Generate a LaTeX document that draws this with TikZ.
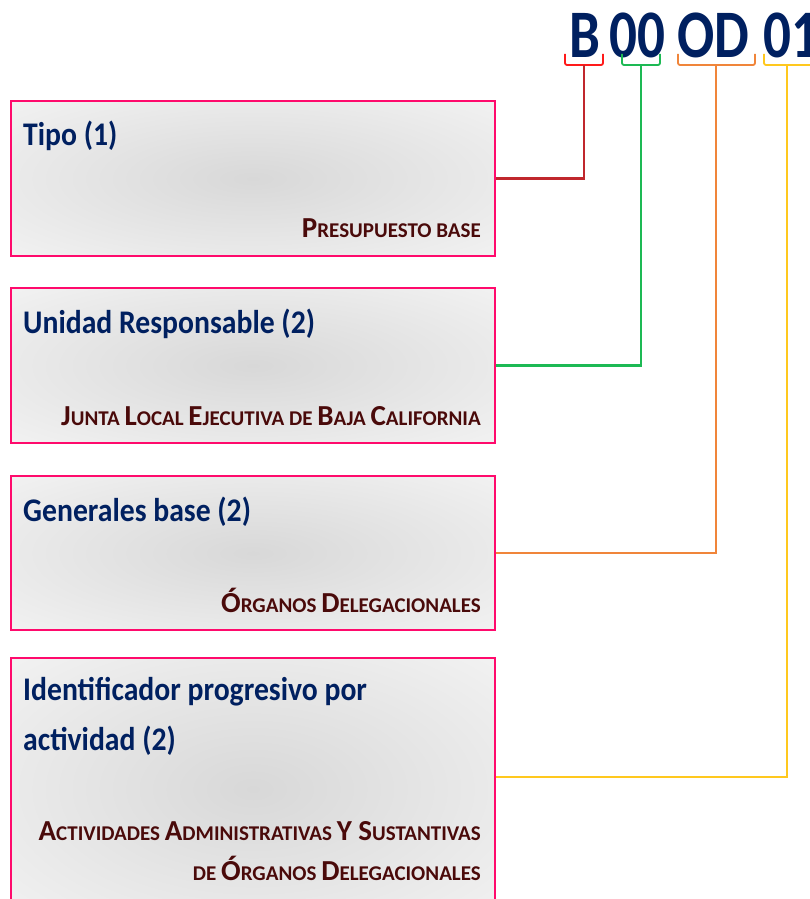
\documentclass[tikz,border=0pt]{standalone}
\usepackage{fontspec}
\setmainfont{Carlito}
\newfontfamily\cbold[FakeStretch=0.9]{Carlito Bold}
\newfontfamily\cboldn[FakeStretch=0.81]{Carlito Bold}
\newfontfamily\cbolds{Carlito Bold}
\definecolor{navy}{HTML}{002060}
\definecolor{maroon}{HTML}{4A0A0A}
\definecolor{boxpink}{HTML}{FF0A6C}
\definecolor{cred}{HTML}{C0272D}
\definecolor{bred}{HTML}{FF1A1A}
\definecolor{cgreen}{HTML}{1DB954}
\definecolor{corange}{HTML}{F0853A}
\definecolor{cyellow}{HTML}{FFC81E}
\definecolor{gin}{HTML}{D8D8D8}
\definecolor{gout}{HTML}{F2F2F2}
\pgfdeclareradialshading{boxshade}{\pgfpoint{0bp}{0bp}}{color(0bp)=(gin); color(36bp)=(gout); color(50bp)=(gout)}
\newcommand\bigc[1]{{\fontsize{29}{29}\selectfont #1}}
\newcommand\smc[1]{{\fontsize{21}{21}\selectfont #1}}
\tikzset{
  codebox/.style={draw=boxpink, line width=2.2pt, shading=boxshade, minimum width=484pt, anchor=north west, inner sep=0pt},
  ttl/.style={text=navy, font=\cbold\fontsize{33}{50}\selectfont, anchor=base west, inner sep=0pt, align=left},
  sub/.style={text=maroon, font=\cbolds\fontsize{21}{40}\selectfont, anchor=base east, inner sep=0pt, align=right},
  code/.style={text=navy, font=\cboldn\fontsize{68}{68}\selectfont, anchor=base, inner sep=0pt},
  conn/.style={line width=2.7pt},
  brk/.style={line width=1.8pt, rounded corners=2pt},
}
\begin{document}
\begin{tikzpicture}[x=1pt,y=-1pt]
\useasboundingbox (0,0) rectangle (809,899);
% boxes
\node[codebox, minimum height=155pt] (b1) at (10,100) {};
\node[codebox, minimum height=155pt] (b2) at (10,287) {};
\node[codebox, minimum height=154pt] (b3) at (10,475) {};
\node[codebox, minimum height=262pt] (b4) at (10,657) {};
% titles
\node[ttl] (t1) at (23,145) {Tipo (1)};
\node[ttl] (t2) at (23,333) {Unidad Responsable (2)};
\node[ttl] (t3) at (23,521) {Generales base (2)};
\node[ttl] (t4) at (23,750) {Identificador progresivo por\\actividad (2)};
% subtitles
\node[sub] (s1) at (481,237) {\bigc{P}\smc{RESUPUESTO BASE}};
\node[sub] (s2) at (481,425) {\bigc{J}\smc{UNTA} \bigc{L}\smc{OCAL} \bigc{E}\smc{JECUTIVA DE} \bigc{B}\smc{AJA} \bigc{C}\smc{ALIFORNIA}};
\node[sub] (s3) at (481,612) {\bigc{Ó}\smc{RGANOS} \bigc{D}\smc{ELEGACIONALES}};
\node[sub] (s4) at (481,880) {\bigc{A}\smc{CTIVIDADES} \bigc{A}\smc{DMINISTRATIVAS} \bigc{Y S}\smc{USTANTIVAS}\\\smc{DE} \bigc{Ó}\smc{RGANOS} \bigc{D}\smc{ELEGACIONALES}};
% code
\node[code] (cB) at (585,57) {B};
\node[code] (c00) at (637,57) {00};
\node[code] (cOD) at (713,57) {OD};
\node[code, anchor=base west] (c01) at (763,57) {01};
% brackets
\draw[brk, bred] (565,54) -- (565,65) -- (603,65) -- (603,54);
\draw[brk, cgreen] (622,54) -- (622,65) -- (660,65) -- (660,54);
\draw[brk, corange] (678,54) -- (678,65) -- (755,65) -- (755,54);
\draw[brk, cyellow] (764,54) -- (764,65) -- (815,65);
\coordinate (kB) at (584,65);
\coordinate (k00) at (641,65);
\coordinate (kOD) at (716,65);
\coordinate (k01) at (787,65);
% connectors
\draw[conn, cred] (b1.east) -| (kB);
\draw[conn, cgreen] (b2.east) -| (k00);
\draw[conn, corange] (b3.east) -| (kOD);
\draw[conn, cyellow] ([yshift=-120pt]b4.north east) -| (k01);
\end{tikzpicture}
\end{document}
